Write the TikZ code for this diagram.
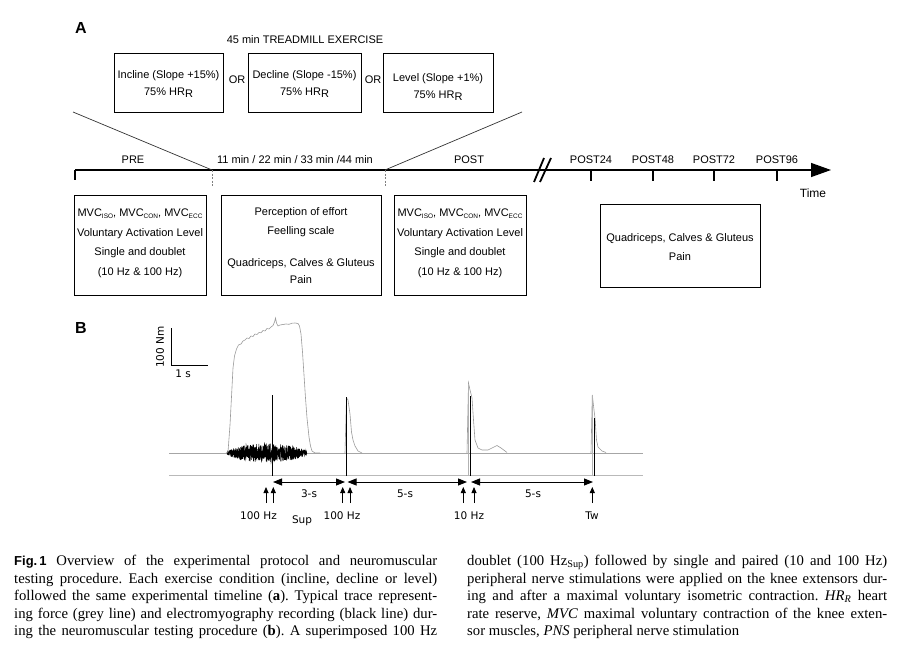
\documentclass[tikz,border=0pt]{standalone}
\usepackage{fontspec}
\setmainfont{Liberation Serif}
\setsansfont{Liberation Sans}
\newfontfamily\dvsans{DejaVu Sans}
\usetikzlibrary{arrows.meta}
\newcommand\mysub[1]{\raisebox{-1.6pt}{\fontsize{6.5}{7}\selectfont #1}}
\newcommand\mvcline{MVC\mysub{ISO}, MVC\mysub{CON}, MVC\mysub{ECC}}
\frenchspacing
\begin{document}
\begin{tikzpicture}[x=1pt,y=-1pt,
  frame/.style={draw, line width=0.9pt, inner sep=0pt},
  atext/.style={font=\sffamily\fontsize{11}{17}\selectfont, inner sep=0pt, align=center},
  btext/.style={font=\dvsans\fontsize{10.5}{12}\selectfont, inner sep=0pt},
  panel/.style={font=\sffamily\bfseries\fontsize{16}{16}\selectfont, inner sep=0pt},
  tline/.style={line width=1.3pt},
  tick/.style={line width=1.6pt},
  dtick/.style={dash pattern=on 2pt off 1.5pt, gray, line width=0.8pt},
  diag/.style={line width=0.7pt, black!80},
  force/.style={gray!80, line width=0.6pt},
  emg/.style={black, line width=0.5pt},
  stim/.style={black, line width=1pt},
  base/.style={gray!70, line width=1pt},
  spanarrow/.style={line width=0.9pt, {Triangle[length=9pt,width=7pt]}-{Triangle[length=9pt,width=7pt]}},
  stimarrow/.style={line width=0.8pt, -{Triangle[length=6pt,width=5pt]}},
  captext/.style={inner sep=0pt, anchor=north west, font=\fontsize{14.7}{17.6}\selectfont, align=left},
]
\useasboundingbox (0,0) rectangle (905,658);

%% ---------------- Panel A ----------------
\node[panel] (pA) at (81,28) {A};
\node[atext] (tread) at (305,40) {45 min TREADMILL EXERCISE};

\node[frame, minimum width=109pt, minimum height=59pt] (inc) at (168.5,82.5) {};
\node[frame, minimum width=113pt, minimum height=59pt] (dec) at (304.5,82.5) {};
\node[frame, minimum width=110pt, minimum height=59pt] (lev) at (438,82.5) {};
\node[atext] (inct) at (168.5,84) {Incline (Slope +15\%)\\75\% HR\raisebox{-2.5pt}{R}};
\node[atext] (dect) at (304.5,84) {Decline (Slope -15\%)\\75\% HR\raisebox{-2.5pt}{R}};
\node[atext] (levt) at (438,87) {Level (Slope +1\%)\\75\% HR\raisebox{-2.5pt}{R}};
\node[atext] (or1) at (237,80) {OR};
\node[atext] (or2) at (373,80) {OR};

% timeline
\coordinate (tl0) at (75,170);
\coordinate (tlA) at (212,170);
\coordinate (tlB) at (385,170);
\coordinate (tlE) at (831,170);
\coordinate (dL) at (73,112);
\coordinate (dR) at (522,112);
\draw[tline, -{Triangle[length=20pt,width=14pt]}] (tl0) -- (tlE);
\draw[tick] (tl0) -- ++(0,10);
\draw[dtick] (tlA) -- ++(0,17);
\draw[dtick] (tlB) -- ++(0,17);
\draw[diag] (dL) -- (tlA);
\draw[diag] (tlB) -- (dR);
\draw[line width=1.8pt] (534,182) -- (544,158);
\draw[line width=1.8pt] (540,182) -- (551,158);
\foreach \xx/\nm in {591/POST24, 653/POST48, 714/POST72, 777/POST96}{
  \draw[tick] (\xx,170) -- (\xx,181);
  \node[atext] (l\nm) at (\xx,160) {\nm};
}
\node[atext] (lpre) at (133,160) {PRE};
\node[atext] (lmid) at (295,160) {11 min / 22 min / 33 min /44 min};
\node[atext] (lpost) at (469,160) {POST};
\node[atext, font=\sffamily\fontsize{12}{14}\selectfont] (ltime) at (813,193) {Time};

% lower boxes
\node[frame, minimum width=132pt, minimum height=100pt] (prebox) at (140,245) {};
\node[frame, minimum width=160pt, minimum height=100pt] (midbox) at (301,245) {};
\node[frame, minimum width=132pt, minimum height=100pt] (postbox) at (460,245) {};
\node[frame, minimum width=160pt, minimum height=83pt] (painbox) at (680,245.5) {};
\node[atext, font=\sffamily\fontsize{11}{19.5}\selectfont] (pret) at (140,243.5)
  {\mvcline\\Voluntary Activation Level\\Single and doublet\\(10 Hz \& 100 Hz)};
\node[atext, font=\sffamily\fontsize{11}{19}\selectfont] (midt1) at (301,222.5)
  {Perception of effort\\Feelling scale};
\node[atext] (midt2) at (301,271)
  {Quadriceps, Calves \& Gluteus\\Pain};
\node[atext, font=\sffamily\fontsize{11}{19.5}\selectfont] (postt) at (460,243.5)
  {\mvcline\\Voluntary Activation Level\\Single and doublet\\(10 Hz \& 100 Hz)};
\node[atext, font=\sffamily\fontsize{11}{19}\selectfont] (paint) at (680,247.5)
  {Quadriceps, Calves \& Gluteus\\Pain};

%% ---------------- Panel B ----------------
\node[panel] (pB) at (81,328) {B};
% scale bar
\coordinate (sbTop) at (171,328);
\coordinate (sbCorner) at (171,365);
\coordinate (sbRight) at (208,365);
\draw[line width=0.9pt] (sbTop) -- (sbCorner) -- (sbRight);
\node[btext, rotate=90] (nm) at (160,347) {100 Nm};
\node[btext] (onesec) at (183,374) {1 s};

% baselines
\draw[base] (169,453) -- (643,453);
\draw[gray!55, line width=0.8pt] (169,475) -- (643,475);

% EMG burst
\pgfmathsetseed{12}
\draw[emg] plot[domain=227:307, samples=700, variable=\t]
  (\t, {453 + 9.5*rand*sqrt(abs(sin(180*(\t-227)/80)))});

% force trace (MVC)
\draw[force] (226,453) -- (228,452) -- (230,425) -- (231.7,393) -- (233,368) -- (234.5,356)
  -- (236.5,349) -- (238.5,345) -- (241,344) -- (243,341) -- (245,340) -- (247,338)
  -- (249,338.5) -- (251,336) -- (253,336.5) -- (255,334) -- (257,334.5) -- (259,332.5)
  -- (261,332.8) -- (263,330.5) -- (265,331) -- (267,328.5) -- (269,329) -- (271,327)
  -- (273,325.5) -- (274.5,322) -- (275.5,318) -- (276.5,323) -- (278,326) -- (280,325)
  -- (283,324.5) -- (286,324) -- (289,324.3) -- (292,323.2) -- (295,323) -- (298,323.5)
  -- (299.5,326) -- (301,334) -- (302.5,352) -- (304,375) -- (305.5,398) -- (307,418)
  -- (309,437) -- (310.5,446) -- (312,451) -- (315,453) -- (320,453);
% twitch 1 (100 Hz)
\draw[force] (345,453) -- (346.5,398) -- (348,400) -- (350,414) -- (351.5,432) -- (353,440)
  -- (355,446) -- (358,451) -- (362,453);
% twitch 2 (10 Hz)
\draw[force] (467,453) -- (468.5,383) -- (470,390) -- (472,398) -- (473.5,420) -- (475,440)
  -- (478,448) -- (482,450) -- (488,450) -- (492,448) -- (497,445.5) -- (501,448) -- (507,452.5);
% twitch 3 (Tw)
\draw[force] (591,453) -- (592.3,395) -- (594,410) -- (595,418) -- (596.5,440) -- (598,447)
  -- (602,451) -- (606,452.5);

% stimulation artefacts
\draw[stim] (272.7,395) -- (272.7,476);
\draw[stim] (346,397) -- (346,476);
\draw[stim, gray!60] (468.5,384) -- (468.5,476);
\draw[stim] (470.5,396) -- (470.5,476);
\draw[stim, gray!60] (592.3,395) -- (592.3,476);
\draw[stim] (594.3,418) -- (594.3,476);

% span arrows
\coordinate (a1) at (273,482);
\coordinate (a2) at (345,482);
\coordinate (a3) at (347.5,482);
\coordinate (a4) at (467,482);
\coordinate (a5) at (471,482);
\coordinate (a6) at (593,482);
\draw[spanarrow] (a1) -- (a2);
\draw[spanarrow] (a3) -- (a4);
\draw[spanarrow] (a5) -- (a6);
\node[btext] (s3) at (309,494) {3-s};
\node[btext] (s5a) at (405,494) {5-s};
\node[btext] (s5b) at (533,494) {5-s};

% stimulation markers
\foreach \xx/\k in {266/1, 273.3/2, 342.7/3, 350/4, 463.3/5, 474/6, 592.3/7}{
  \coordinate (m\k b) at (\xx,503);
  \coordinate (m\k t) at (\xx,487);
  \draw[stimarrow] (m\k b) -- (m\k t);
}
\node[btext] (hz1) at (258.5,516) {100 Hz};
\node[btext] (sup) at (302,521) {Sup};
\node[btext] (hz2) at (342,516) {100 Hz};
\node[btext] (hz3) at (469,516) {10 Hz};
\node[btext] (tw) at (592,516) {Tw};

%% ---------------- Caption ----------------
\node[captext] (capL) at (14,555) {%
\makebox[423pt][s]{{\sffamily\bfseries\fontsize{13}{14}\selectfont Fig.\,1} Overview of the experimental protocol and neuromuscular}\\
\makebox[423pt][s]{testing procedure. Each exercise condition (incline, decline or level)}\\
\makebox[423pt][s]{followed the same experimental timeline (\textbf{a}). Typical trace represent-}\\
\makebox[423pt][s]{ing force (grey line) and electromyography recording (black line) dur-}\\
\makebox[423pt][s]{ing the neuromuscular testing procedure (\textbf{b}). A superimposed 100 Hz}};
\node[captext] (capR) at (467,555) {%
\makebox[420pt][s]{doublet (100 Hz\textsubscript{Sup}) followed by single and paired (10 and 100 Hz)}\\
\makebox[420pt][s]{peripheral nerve stimulations were applied on the knee extensors dur-}\\
\makebox[420pt][s]{ing and after a maximal voluntary isometric contraction. \textit{HR\textsubscript{R}} heart}\\
\makebox[420pt][s]{rate reserve, \textit{MVC} maximal voluntary contraction of the knee exten-}\\
sor muscles, \textit{PNS} peripheral nerve stimulation};
\end{tikzpicture}
\end{document}
